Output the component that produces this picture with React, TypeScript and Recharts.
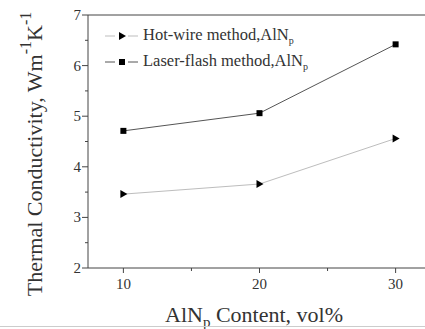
import { LineChart, Line, XAxis, YAxis, ReferenceLine, Legend } from "recharts";

const content = [10, 20, 30];
const hotWire = [3.46, 3.66, 4.56];
const laserFlash = [4.71, 5.06, 6.42];

const xTicks = [10, 15, 20, 25, 30];
const xLabels = [10, 20, 30];
const yTicks = [2, 2.5, 3, 3.5, 4, 4.5, 5, 5.5, 6, 6.5, 7];

const data = content.map((c, i) => ({ content: c, hot: hotWire[i], laser: laserFlash[i] }));

const FONT = '"Liberation Serif", "Times New Roman", serif';
const AXIS = "#444";
const HOT = "#bdbdbd";
const LASER = "#555";

function Triangle({ cx, cy }: any) {
  if (cx == null || cy == null) return null;
  return <path d={`M${cx - 3},${cy - 4}L${cx + 4},${cy}L${cx - 3},${cy + 4}Z`} fill="#000" />;
}

function Square({ cx, cy }: any) {
  if (cx == null || cy == null) return null;
  return <rect x={cx - 3} y={cy - 3} width={6} height={6} fill="#000" />;
}

function XTick({ x, y, payload }: any) {
  const major = xLabels.includes(payload.value);
  return (
    <g>
      <line x1={x} x2={x} y1={y} y2={y + (major ? 5 : 3)} stroke={AXIS} />
      {major && (
        <text x={x} y={y + 21} textAnchor="middle" fontSize={15} fontFamily={FONT} fill="#333">
          {payload.value}
        </text>
      )}
    </g>
  );
}

function YTick({ x, y, payload }: any) {
  const major = Number.isInteger(payload.value);
  return (
    <g>
      <line x1={x} x2={x - (major ? 6 : 3)} y1={y} y2={y} stroke={AXIS} />
      {major && (
        <text x={x - 7} y={y + 5} textAnchor="end" fontSize={15} fontFamily={FONT} fill="#333">
          {payload.value}
        </text>
      )}
    </g>
  );
}

function LegendBox() {
  const rows = [
    { name: "Hot-wire method,AlN", color: HOT, shape: "tri" },
    { name: "Laser-flash method,AlN", color: LASER, shape: "sq" },
  ];
  return (
    <div style={{ fontFamily: FONT, fontSize: 16.5, color: "#333" }}>
      {rows.map((r) => (
        <div key={r.name} style={{ display: "flex", alignItems: "center", height: 26 }}>
          <svg width={40} height={12} style={{ marginRight: 3 }}>
            <line x1={5} x2={15} y1={6} y2={6} stroke={r.color} />
            <line x1={28} x2={38} y1={6} y2={6} stroke={r.color} />
            {r.shape === "tri" ? <Triangle cx={22} cy={6} /> : <Square cx={22} cy={6} />}
          </svg>
          <span>
            {r.name}
            <sub style={{ fontSize: 10 }}>p</sub>
          </span>
        </div>
      ))}
    </div>
  );
}

export default function App() {
  return (
    <div
      style={{
        position: "absolute",
        left: 0,
        top: 0,
        width: 425,
        height: 329,
        overflow: "hidden",
        background: "#fff",
      }}
    >
      <LineChart width={431} height={329} data={data} margin={{ top: 15, right: 0, bottom: 0, left: 0 }}>
        <XAxis
          dataKey="content"
          type="number"
          domain={[7.4, 32.6]}
          ticks={xTicks}
          interval={0}
          tickLine={false}
          tickSize={0}
          tickMargin={0}
          tick={<XTick />}
          stroke={AXIS}
          height={61}
          allowDataOverflow
          label={{
            content: () => (
              <text x={254} y={322} textAnchor="middle" fontSize={22} fontFamily={FONT} fill="#333">
                AlN
                <tspan fontSize={15} dy={5}>p</tspan>
                <tspan dy={-5}> Content, vol%</tspan>
              </text>
            ),
          }}
        />
        <YAxis
          type="number"
          domain={[2, 7]}
          ticks={yTicks}
          interval={0}
          tickLine={false}
          tickSize={0}
          tickMargin={0}
          tick={<YTick />}
          stroke={AXIS}
          width={88}
          allowDataOverflow
          label={{
            content: () => (
              <text
                transform="translate(42,154) rotate(-90)"
                textAnchor="middle"
                fontSize={22}
                fontFamily={FONT}
                fill="#333"
              >
                Thermal Conductivity, Wm
                <tspan fontSize={16} dy={-11}>-1</tspan>
                <tspan dy={11}>K</tspan>
                <tspan fontSize={16} dy={-11}>-1</tspan>
              </text>
            ),
          }}
        />
        <ReferenceLine y={7} stroke={AXIS} />
        <Legend
          layout="vertical"
          align="center"
          verticalAlign="middle"
          wrapperStyle={{ left: 100, top: 23, width: 280, height: 52 }}
          content={() => <LegendBox />}
        />
        <Line
          dataKey="hot"
          stroke={HOT}
          strokeWidth={1}
          dot={(p: any) => <Triangle key={`t${p.index}`} cx={p.cx} cy={p.cy} />}
          isAnimationActive={false}
        />
        <Line
          dataKey="laser"
          stroke={LASER}
          strokeWidth={1}
          dot={(p: any) => <Square key={`s${p.index}`} cx={p.cx} cy={p.cy} />}
          isAnimationActive={false}
        />
      </LineChart>
      <div style={{ position: "absolute", left: 0, top: 326, width: 425, height: 1, background: "#ccc" }} />
    </div>
  );
}
